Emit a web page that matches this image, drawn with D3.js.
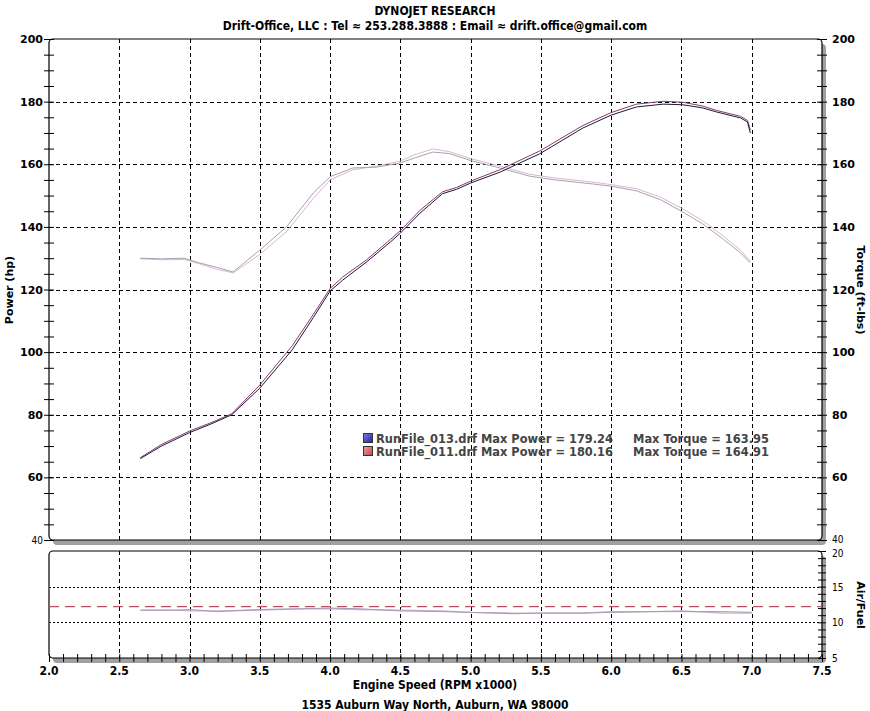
<!DOCTYPE html>
<html>
<head>
<meta charset="utf-8">
<script src="https://cdn.jsdelivr.net/npm/d3@7"></script>
<style>
  body { margin: 0; background: #fff; }
  svg { display: block; }
</style>
</head>
<body>
<script>
// ---------------- DATA ----------------
var xTicks = [2.0, 2.5, 3.0, 3.5, 4.0, 4.5, 5.0, 5.5, 6.0, 6.5, 7.0, 7.5];
var mainTicks = [40, 60, 80, 100, 120, 140, 160, 180, 200];
var afrTicks = [5, 10, 15, 20];

var pwrRpm = [2.65, 2.8, 3.0, 3.15, 3.3, 3.5, 3.73, 3.88, 4.0, 4.09, 4.26, 4.43, 4.5, 4.64, 4.8, 4.9, 5.0, 5.21, 5.49, 5.8, 6.0, 6.18, 6.37, 6.51, 6.65, 6.75, 6.92, 6.97, 6.99];
var power013 = [66, 70, 74.3, 77, 80, 88.5, 100.7, 111, 119.5, 123, 128.8, 135.2, 138, 144.4, 150.6, 152, 154, 157.5, 163.3, 171.6, 175.7, 178.3, 179.2, 179, 178, 176.7, 174.8, 173.5, 170];
var power011 = [66.3, 70.5, 74.8, 77.4, 80.3, 89.5, 102, 112, 120.3, 124, 129.5, 136, 138.8, 145.3, 151.2, 152.6, 154.6, 158.3, 164.2, 172.4, 176.5, 179.2, 180.1, 179.8, 178.6, 177.2, 175.3, 174, 171];

var trqRpm = [2.65, 2.8, 2.96, 3.07, 3.2, 3.31, 3.5, 3.69, 3.88, 4.0, 4.16, 4.33, 4.5, 4.6, 4.73, 4.85, 5.0, 5.21, 5.42, 5.6, 5.85, 6.0, 6.18, 6.35, 6.5, 6.65, 6.8, 6.92, 6.99];
var torque013 = [130, 129.8, 130, 128.5, 127, 125.6, 132.6, 140, 150.8, 156, 158.8, 159.1, 160.4, 162, 163.9, 163.4, 161.2, 158.8, 156.2, 155, 153.8, 153, 151.5, 148.7, 145, 141, 136, 131.7, 128.5];
var torque011 = [129.8, 129.5, 129.6, 128.2, 126.4, 125.3, 131.2, 138.5, 149, 155, 158.2, 159.4, 161, 163, 164.9, 164, 161.8, 159.4, 156.8, 155.6, 154.4, 153.5, 152.2, 149.5, 146, 142, 137, 132.6, 129];

var afrRpm = [2.65, 2.9, 3.0, 3.2, 3.5, 3.8, 4.0, 4.2, 4.5, 4.8, 5.0, 5.3, 5.5, 5.8, 6.0, 6.3, 6.5, 6.8, 7.0];
var afr013 = [11.7, 11.7, 11.8, 11.5, 11.8, 11.9, 12.0, 11.9, 11.6, 11.5, 11.4, 11.2, 11.3, 11.3, 11.4, 11.5, 11.5, 11.5, 11.4];
var afr011 = [11.7, 11.7, 11.6, 11.6, 11.7, 11.9, 11.9, 11.8, 11.7, 11.6, 11.4, 11.3, 11.3, 11.3, 11.5, 11.5, 11.6, 11.3, 11.3];
var afrTarget = 12.2;

var legendRows = [
  { name: "RunFile_013.drf", power: "179.24", torque: "163.95", c1: "#2020a0", c2: "#8080e0" },
  { name: "RunFile_011.drf", power: "180.16", torque: "164.91", c1: "#c04050", c2: "#f0a0a0" }
];

// ---------------- LAYOUT ----------------
var W = 870, H = 711;
var left = 49, right = 822;
var mainTop = 39, mainBot = 540;
var afrTop = 551, afrBot = 658;
var narrow = "'Liberation Sans Narrow', 'DejaVu Sans Condensed', sans-serif";
var verd = "'DejaVu Sans', Verdana, sans-serif";

var svg = d3.select("body").append("svg").attr("width", W).attr("height", H);

var x = d3.scaleLinear().domain([2.0, 7.5]).range([left, right]);
var y = d3.scaleLinear().domain([40, 200]).range([mainBot, mainTop]);
var ya = d3.scaleLinear().domain([5, 20]).range([afrBot, afrTop]);

// ---------------- TITLES ----------------
svg.append("text").attr("x", 435).attr("y", 15).attr("text-anchor", "middle")
  .style("font-family", narrow).style("font-size", "12px").style("font-weight", "bold")
  .text("DYNOJET RESEARCH");
svg.append("text").attr("x", 435).attr("y", 30).attr("text-anchor", "middle")
  .style("font-family", narrow).style("font-size", "12px").style("font-weight", "bold")
  .text("Drift-Office, LLC : Tel \u2248 253.288.3888 : Email \u2248 drift.office@gmail.com");

// ---------------- PANEL FRAMES ----------------
function frame(top, bot) {
  // shadow
  svg.append("rect").attr("x", left + 4).attr("y", top + 5)
    .attr("width", right - left).attr("height", bot - top)
    .attr("rx", 4).attr("fill", "#a0a0a0");
  svg.append("rect").attr("x", left).attr("y", top)
    .attr("width", right - left).attr("height", bot - top)
    .attr("rx", 4).attr("fill", "#fff").attr("stroke", "#000").attr("stroke-width", 1.2);
}
frame(mainTop, mainBot);
frame(afrTop, afrBot);

// ---------------- GRID ----------------
var grid = svg.append("g").attr("stroke", "#000").attr("stroke-width", 1).attr("stroke-dasharray", "4,3");
xTicks.slice(1, -1).forEach(function(d) {
  grid.append("line").attr("x1", Math.round(x(d)) + 0.5).attr("x2", Math.round(x(d)) + 0.5)
    .attr("y1", mainTop).attr("y2", mainBot);
  grid.append("line").attr("x1", Math.round(x(d)) + 0.5).attr("x2", Math.round(x(d)) + 0.5)
    .attr("y1", afrTop).attr("y2", afrBot);
});
mainTicks.slice(1, -1).forEach(function(d) {
  grid.append("line").attr("x1", left).attr("x2", right)
    .attr("y1", Math.round(y(d)) + 0.5).attr("y2", Math.round(y(d)) + 0.5);
});
[10, 15].forEach(function(d) {
  svg.append("line").attr("x1", left).attr("x2", right)
    .attr("y1", Math.round(ya(d)) + 0.5).attr("y2", Math.round(ya(d)) + 0.5)
    .attr("stroke", "#000").attr("stroke-dasharray", "2,2");
});

// ---------------- AXES ----------------
function noDomain(g) { g.select(".domain").remove(); g.selectAll("text").remove(); }
var minorY = d3.range(40, 201, 5);
svg.append("g").attr("transform", "translate(" + left + ",0)")
  .call(d3.axisLeft(y).tickValues(minorY).tickSize(5)).call(noDomain)
  .selectAll("line").attr("x2", 5).attr("x1", -5);
svg.append("g").attr("transform", "translate(" + right + ",0)")
  .call(d3.axisRight(y).tickValues(minorY).tickSize(5)).call(noDomain)
  .selectAll("line").attr("x1", -5);
svg.append("g").attr("transform", "translate(" + right + ",0)")
  .call(d3.axisRight(ya).tickValues(d3.range(5, 21, 1)).tickSize(4)).call(noDomain)
  .selectAll("line").attr("x1", -4);
svg.append("g").attr("transform", "translate(0," + afrBot + ")")
  .call(d3.axisBottom(x).tickValues(d3.range(20, 76, 1).map(function(d) { return d / 10; })).tickSize(4)).call(noDomain)
  .selectAll("line").attr("y1", -4);

// tick labels
mainTicks.forEach(function(d) {
  var f = d === 40 ? narrow : verd;
  var w = d === 40 ? "normal" : "bold";
  var fs = d === 40 ? "10px" : "11px";
  svg.append("text").attr("x", left - 6).attr("y", y(d) + 4).attr("text-anchor", "end")
    .style("font-family", f).style("font-weight", w).style("font-size", fs).text(d);
  svg.append("text").attr("x", right + 10).attr("y", d === 40 ? 543 : y(d) + 4)
    .style("font-family", f).style("font-weight", w).style("font-size", fs).text(d);
});
afrTicks.forEach(function(d) {
  svg.append("text").attr("x", right + 10).attr("y", d === 20 ? 557 : ya(d) + 4)
    .style("font-family", narrow).style("font-size", "10px").text(d);
});
xTicks.forEach(function(d) {
  svg.append("text").attr("x", x(d)).attr("y", 675).attr("text-anchor", "middle")
    .style("font-family", narrow).style("font-weight", "bold").style("font-size", "12px").text(d.toFixed(1));
});

// axis titles
svg.append("text").attr("transform", "translate(13,290) rotate(-90)").attr("text-anchor", "middle")
  .style("font-family", verd).style("font-weight", "bold").style("font-size", "11px").text("Power (hp)");
svg.append("text").attr("transform", "translate(857,290) rotate(90)").attr("text-anchor", "middle")
  .style("font-family", verd).style("font-weight", "bold").style("font-size", "11px").text("Torque (ft-lbs)");
svg.append("text").attr("transform", "translate(857,605) rotate(90)").attr("text-anchor", "middle")
  .style("font-family", verd).style("font-weight", "bold").style("font-size", "11px").text("Air/Fuel");
svg.append("text").attr("x", 435).attr("y", 689).attr("text-anchor", "middle")
  .style("font-family", narrow).style("font-weight", "bold").style("font-size", "12px").text("Engine Speed (RPM x1000)");
svg.append("text").attr("x", 435).attr("y", 709).attr("text-anchor", "middle")
  .style("font-family", narrow).style("font-weight", "bold").style("font-size", "12px").text("1535 Auburn Way North, Auburn, WA 98000");

// ---------------- CURVES ----------------
function curve(xs, ys, sy, color, width) {
  var pts = xs.map(function(d, i) { return [d, ys[i]]; });
  svg.append("path").datum(pts)
    .attr("fill", "none").attr("stroke", color).attr("stroke-width", width)
    .attr("d", d3.line().x(function(d) { return x(d[0]); }).y(function(d) { return sy(d[1]); }));
}
// AFR target line
svg.append("line").attr("x1", left).attr("x2", right)
  .attr("y1", ya(afrTarget)).attr("y2", ya(afrTarget))
  .attr("stroke", "#c05060").attr("stroke-width", 1.2).attr("stroke-dasharray", "10,6");

curve(afrRpm, afr011, ya, "#d0b0d0", 1.3);
curve(afrRpm, afr013, ya, "#a898b0", 1);
curve(trqRpm, torque011, y, "#d8b8d0", 1);
curve(trqRpm, torque013, y, "#a8a0b0", 1);
curve(pwrRpm, power011, y, "#8a3a6a", 1);
curve(pwrRpm, power013, y, "#1a1a3a", 1);

// ---------------- LEGEND ----------------
legendRows.forEach(function(r, i) {
  var ly = 433 + i * 13;
  var gid = "lg" + i;
  var grad = svg.append("defs").append("linearGradient").attr("id", gid)
    .attr("x1", 0).attr("y1", 0).attr("x2", 1).attr("y2", 1);
  grad.append("stop").attr("offset", "0").attr("stop-color", r.c2);
  grad.append("stop").attr("offset", "1").attr("stop-color", r.c1);
  svg.append("rect").attr("x", 363.5).attr("y", ly + 0.5).attr("width", 9).attr("height", 9)
    .attr("fill", "url(#" + gid + ")").attr("stroke", "#333");
  svg.append("text").attr("x", 376).attr("y", ly + 9.5)
    .attr("textLength", 237).attr("lengthAdjust", "spacingAndGlyphs")
    .style("font-family", verd).style("font-size", "11.5px").style("font-weight", "bold").style("fill", "#444")
    .text(r.name + " Max Power = " + r.power);
  svg.append("text").attr("x", 633).attr("y", ly + 9.5)
    .attr("textLength", 136).attr("lengthAdjust", "spacingAndGlyphs")
    .style("font-family", verd).style("font-size", "11.5px").style("font-weight", "bold").style("fill", "#444")
    .text("Max Torque = " + r.torque);
});
</script>
</body>
</html>
